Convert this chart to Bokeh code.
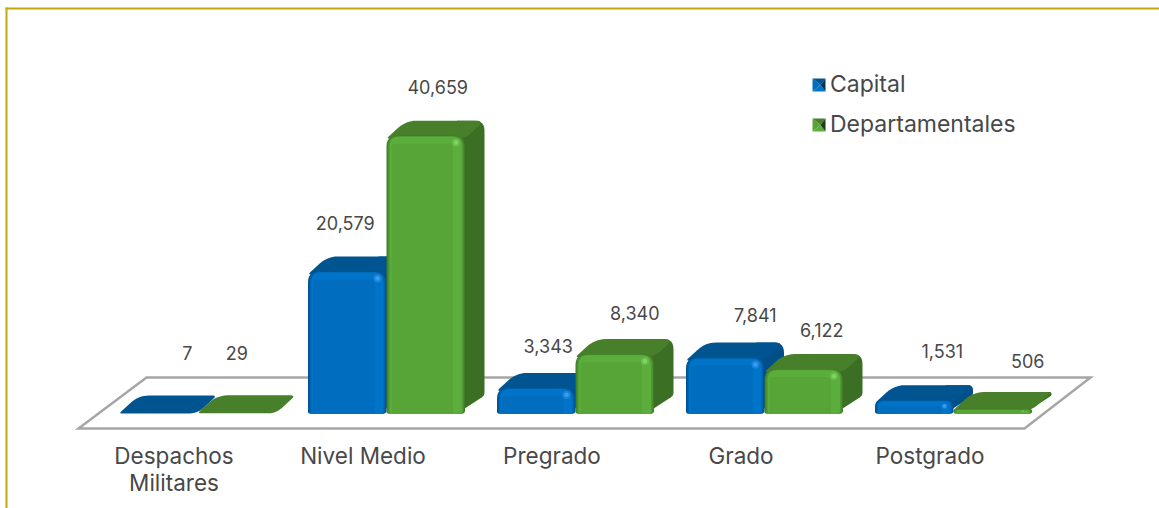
from bokeh.plotting import figure
from bokeh.embed import file_html
from bokeh.resources import INLINE
from bokeh.models import ColumnDataSource, LinearAxis, FixedTicker, Legend, LegendItem, Range1d
from bokeh.core.properties import value

categories = ["Despachos\nMilitares", "Nivel Medio", "Pregrado", "Grado", "Postgrado"]
capital = [7, 20579, 3343, 7841, 1531]
departamentales = [29, 40659, 8340, 6122, 506]
series_names = ["Capital", "Departamentales"]

W, H = 1159, 508
FONT = "Inter"
TXT = "#484848"
PX_PER_CAT = 189.0            # horizontal pixels for one category
PX_PER_UNIT = 0.00676         # vertical pixels for one unit
CAT0_PX = 173.5               # pixel of category 0
ZERO_PX = 413.0               # pixel of value 0
BAR_W, DEPTH_X, DEPTH_Y = 78.5, 19.5, 18.0
SERIES_SHIFT = [-55.0, 23.5]  # left edge of bar relative to the category tick

# label placement relative to each bar, pixels
LABEL_DX = [[29, -2, 12, 30, 28], [0, 12, 20, 18, 35]]
LABEL_DY = [[-60, -51, -45, -45, -52], [-60, -52, -44, -42, -49]]

STYLE = [
    dict(top="#00548f", side="#004f88", ramp=["#00508f", "#005a9f", "#0064b0", "#0074c8"], base="#006dbe",
         halo="#1a84d8", spot="#3a9cec", tip="#003560"),
    dict(top="#477f2b", side="#3b7024", ramp=["#3f7a27", "#47882d", "#4f9833", "#5bae3c"], base="#56a536",
         halo="#6abc4c", spot="#80d462", tip="#1f3a1a"),
]


def dx(px):
    return px / PX_PER_CAT


def dy(px):
    return px / PX_PER_UNIT


def rounded(pts, radii, n=6):
    """Round a polygon's corners; pts and radii in pixels."""
    out = []
    m = len(pts)
    for i in range(m):
        p0, p1, p2 = pts[i - 1], pts[i], pts[(i + 1) % m]
        r = radii[i]
        d1 = ((p0[0] - p1[0]) ** 2 + (p0[1] - p1[1]) ** 2) ** 0.5 or 1
        d2 = ((p2[0] - p1[0]) ** 2 + (p2[1] - p1[1]) ** 2) ** 0.5 or 1
        r = min(r, d1 * 0.5, d2 * 0.5)
        a = (p1[0] + (p0[0] - p1[0]) * r / d1, p1[1] + (p0[1] - p1[1]) * r / d1)
        b = (p1[0] + (p2[0] - p1[0]) * r / d2, p1[1] + (p2[1] - p1[1]) * r / d2)
        for k in range(n + 1):
            t = k / n
            out.append(((1 - t) ** 2 * a[0] + 2 * t * (1 - t) * p1[0] + t * t * b[0],
                        (1 - t) ** 2 * a[1] + 2 * t * (1 - t) * p1[1] + t * t * b[1]))
    return out


xs, ys, cols = [], [], []


def add(x0, pts, col):
    """pts are pixel offsets (right, up) from the bar's lower left corner."""
    xs.append([x0 + dx(a) for a, b in pts])
    ys.append([dy(b) for a, b in pts])
    cols.append(col)


def draw_bar(cat, s, v):
    st = STYLE[s]
    x0 = cat + dx(SERIES_SHIFT[s])
    h = v * PX_PER_UNIT
    w = BAR_W
    bump = min(3.0, h * 0.3)
    back_r = 9 if h > 15 else 5
    # side face
    if h > 1:
        add(x0, rounded([(w - 8, 0), (w + DEPTH_X, DEPTH_Y), (w + DEPTH_X, h + DEPTH_Y),
                         (w - 8, h + DEPTH_Y)], [0, 3, back_r + 1, 0]), st["side"])
    # top face
    add(x0, rounded([(0, h), (w, h), (w + DEPTH_X, h + DEPTH_Y), (DEPTH_X, h + DEPTH_Y)],
                    [3, 8, back_r, 11]), st["top"])
    if h < 1:
        return
    # front face: concentric layers from the dark rim to the bright bevel
    ft = h + bump
    r = min(11.0, ft * 0.5)
    insets = [(0, 0, 0), (0.8, 0.8, 0.3), (1.8, 1.6, 0.7), (3.2, 3.0, 1.2)]
    for (il, ir, it), col in zip(insets, st["ramp"]):
        rr = max(r - il * 0.5, 0.5)
        add(x0, rounded([(il, 0), (w - ir, 0), (w - ir, ft - it), (il, ft - it)], [2, 3, rr, rr]), col)
    # flat interior
    bev = min(8.0, ft * 0.42)
    add(x0, rounded([(5, 0), (w - 12, 0), (w - 12, ft - bev), (5, ft - bev)], [0, 0, min(3, ft * 0.1), min(3, ft * 0.1)]),
        st["base"])
    # soft highlight in the upper right corner
    cy = ft - min(7.0, ft * 0.45)
    for sz, col in [(min(4.0, ft * 0.2), st["halo"]), (min(2.2, ft * 0.12), st["spot"])]:
        add(x0, rounded([(w - 9 - sz, cy - sz), (w - 9 + sz, cy - sz), (w - 9 + sz, cy + sz),
                         (w - 9 - sz, cy + sz)], [sz] * 4), col)


p = figure(width=W, height=H, toolbar_location=None, output_backend="svg",
           x_axis_location=None, y_axis_location=None, min_border=0,
           x_range=Range1d(dx(0 - CAT0_PX), dx(W - CAT0_PX)),
           y_range=Range1d(dy(ZERO_PX - H), dy(ZERO_PX)))
p.outline_line_color = None
p.background_fill_color = "white"
p.border_fill_color = "white"
p.grid.visible = False

n = len(categories)
x_of = lambda px: dx(px - CAT0_PX)
y_of = lambda px: dy(ZERO_PX - px)
p.segment(x0=[x_of(5), x_of(6)], y0=[y_of(8), y_of(7)], x1=[x_of(W), x_of(6)], y1=[y_of(8), y_of(H)],
          line_color="#c4a70c", line_width=2)

floor_y0, floor_y1 = dy(-15), dy(36)
p.patch([x_of(78), x_of(1024), x_of(1090), x_of(146)], [floor_y0, floor_y0, floor_y1, floor_y1],
        fill_color=None, line_color="#a6a6a6", line_width=2.5, line_join="miter")

for i in range(n):
    for s, vals in enumerate([capital, departamentales]):
        draw_bar(i, s, vals[i])
p.patches("xs", "ys", fill_color="cols", line_color=None,
          source=ColumnDataSource(dict(xs=xs, ys=ys, cols=cols)))

lx, ly, lt, lox, loy = [], [], [], [], []
for s, vals in enumerate([capital, departamentales]):
    for i, v in enumerate(vals):
        lx.append(i + dx(SERIES_SHIFT[s] + BAR_W / 2))
        ly.append(v)
        lt.append(f"{v:,}")
        lox.append(LABEL_DX[s][i])
        loy.append(LABEL_DY[s][i])
p.text("lx", "ly", text="lt", x_offset="lox", y_offset="loy",
       source=ColumnDataSource(dict(lx=lx, ly=ly, lt=lt, lox=lox, loy=loy)),
       text_align="center", text_baseline="middle", text_font=value(FONT),
       text_font_size="18px", text_color=TXT)

axis = LinearAxis(fixed_location=dy(-15), ticker=FixedTicker(ticks=list(range(n))),
                  major_label_overrides={i: c for i, c in enumerate(categories)})
axis.axis_line_color = None
axis.major_tick_line_color = None
axis.minor_tick_line_color = None
axis.major_label_text_font = FONT
axis.major_label_text_font_size = "22.5px"
axis.major_label_text_color = TXT
axis.major_label_text_line_height = 1.0
axis.major_label_standoff = 7
p.add_layout(axis, "below")

items = []
for s, name in enumerate(series_names):
    r = p.patch([], [], fill_color=STYLE[s]["base"], line_color=None)
    items.append(LegendItem(label=name, renderers=[r]))
legend = Legend(items=items, location=(812, 370), orientation="vertical", spacing=12,
                glyph_width=13, glyph_height=24, label_height=24, label_standoff=5,
                padding=0, margin=0, background_fill_alpha=0, border_line_color=None,
                label_text_font=FONT, label_text_font_size="23px", label_text_color=TXT)
p.add_layout(legend)

for s, cy in enumerate([84.5, 124.5]):
    st = STYLE[s]
    x1, x2, xc = x_of(812), x_of(825), x_of(820)
    t, b, c = y_of(cy - 6.5), y_of(cy + 6.5), y_of(cy)
    faces = [([x1, xc, x1], [t, c, b], st["base"]), ([x1, x2, xc], [t, t, c], st["top"]),
             ([x1, x2, xc], [b, b, c], st["ramp"][3]), ([x2, xc, x2], [t, c, b], st["tip"])]
    for fx, fy, col in faces:
        p.patch(fx, fy, fill_color=col, line_color=None, level="overlay")

open("out.html", "w").write(file_html(p, INLINE))
